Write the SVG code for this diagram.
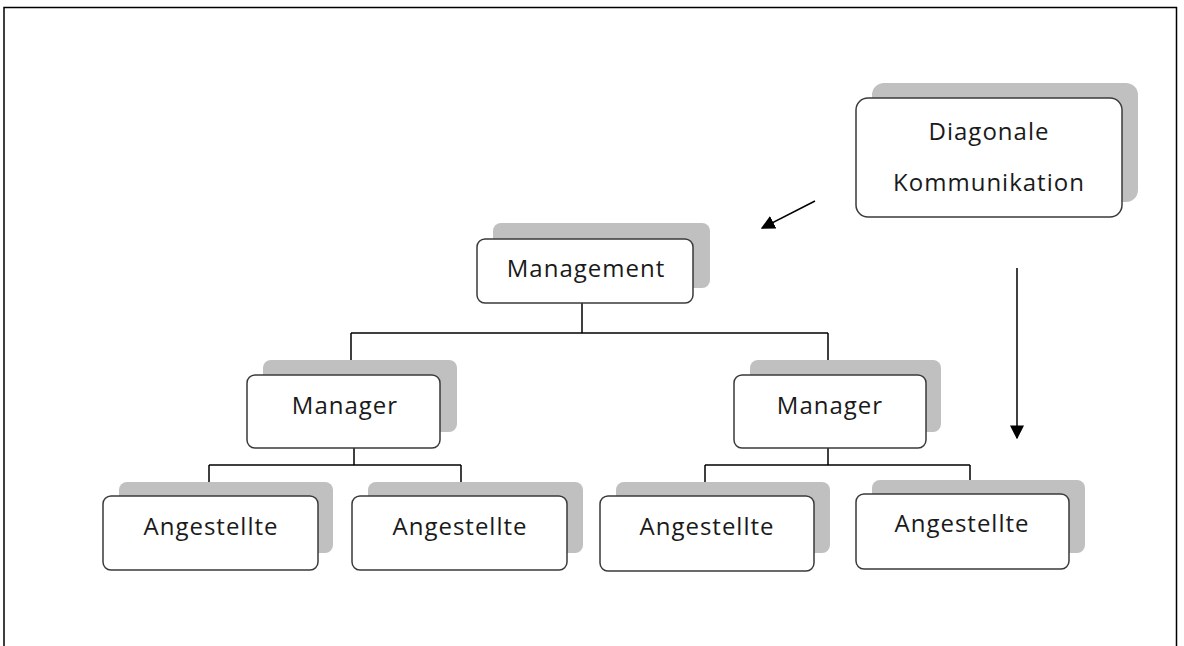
<svg xmlns="http://www.w3.org/2000/svg" width="1184" height="646" viewBox="0 0 1184 646">
<style>
.sh{fill:#c0c0c0}
.bx{fill:#fff;stroke:#3a3a3a;stroke-width:1.5}
.t{font-family:"Open Sans","Noto Sans",sans-serif;font-size:24px;letter-spacing:1px;fill:#1a1a1a;text-anchor:middle}
.c{stroke:#000;stroke-width:1.5;fill:none}
</style>
<defs>
<marker id="ah2" viewBox="0 0 10 10" refX="9" refY="5" markerWidth="14" markerHeight="14" orient="auto" markerUnits="userSpaceOnUse">
<path d="M0,0 L10,5 L0,10 z" fill="#000"/>
</marker>
</defs>
<rect x="0" y="0" width="1184" height="646" fill="#fff"/>
<path d="M4,646 L4,7.5 L1176.5,7.5 L1176.5,646" fill="none" stroke="#000" stroke-width="1.5"/>
<g id="connectors">
<path class="c" d="M582,303 V333 M351,333 H828 M351,333 V375 M828,333 V375"/>
<path class="c" d="M354,448 V465 M209,465 H461 M209,465 V496 M461,465 V496"/>
<path class="c" d="M828,448 V465 M705,465 H970 M705,465 V496 M970,465 V494"/>
<line class="c" x1="815" y1="201" x2="762" y2="228" marker-end="url(#ah2)"/>
<line class="c" x1="1017" y1="268" x2="1017" y2="438" marker-end="url(#ah2)"/>
</g>
<g id="diag">
<rect class="sh" x="872" y="83" width="266" height="119" rx="12"/>
<rect class="bx" x="856" y="98" width="266" height="119" rx="12"/>
<text class="t" x="989" y="140">Diagonale</text>
<text class="t" x="989" y="191">Kommunikation</text>
</g>
<g id="management">
<rect class="sh" x="493" y="223" width="217" height="65" rx="8"/>
<rect class="bx" x="477" y="239" width="216" height="64" rx="8"/>
<text class="t" x="586" y="277">Management</text>
</g>
<g id="manager1">
<rect class="sh" x="263" y="360" width="194" height="72" rx="8"/>
<rect class="bx" x="247" y="375" width="193" height="73" rx="8"/>
<text class="t" x="345" y="414">Manager</text>
</g>
<g id="manager2">
<rect class="sh" x="750" y="360" width="191" height="72" rx="8"/>
<rect class="bx" x="734" y="375" width="192" height="73" rx="8"/>
<text class="t" x="830" y="414">Manager</text>
</g>
<g id="ang1">
<rect class="sh" x="119" y="482" width="214" height="71" rx="8"/>
<rect class="bx" x="103" y="496" width="215" height="74" rx="8"/>
<text class="t" x="211" y="535">Angestellte</text>
</g>
<g id="ang2">
<rect class="sh" x="368" y="482" width="215" height="71" rx="8"/>
<rect class="bx" x="352" y="496" width="215" height="74" rx="8"/>
<text class="t" x="460" y="535">Angestellte</text>
</g>
<g id="ang3">
<rect class="sh" x="616" y="482" width="214" height="71" rx="8"/>
<rect class="bx" x="600" y="496" width="214" height="75" rx="8"/>
<text class="t" x="707" y="535">Angestellte</text>
</g>
<g id="ang4">
<rect class="sh" x="872" y="480" width="213" height="73" rx="8"/>
<rect class="bx" x="856" y="494" width="213" height="75" rx="8"/>
<text class="t" x="962" y="532">Angestellte</text>
</g>
</svg>
